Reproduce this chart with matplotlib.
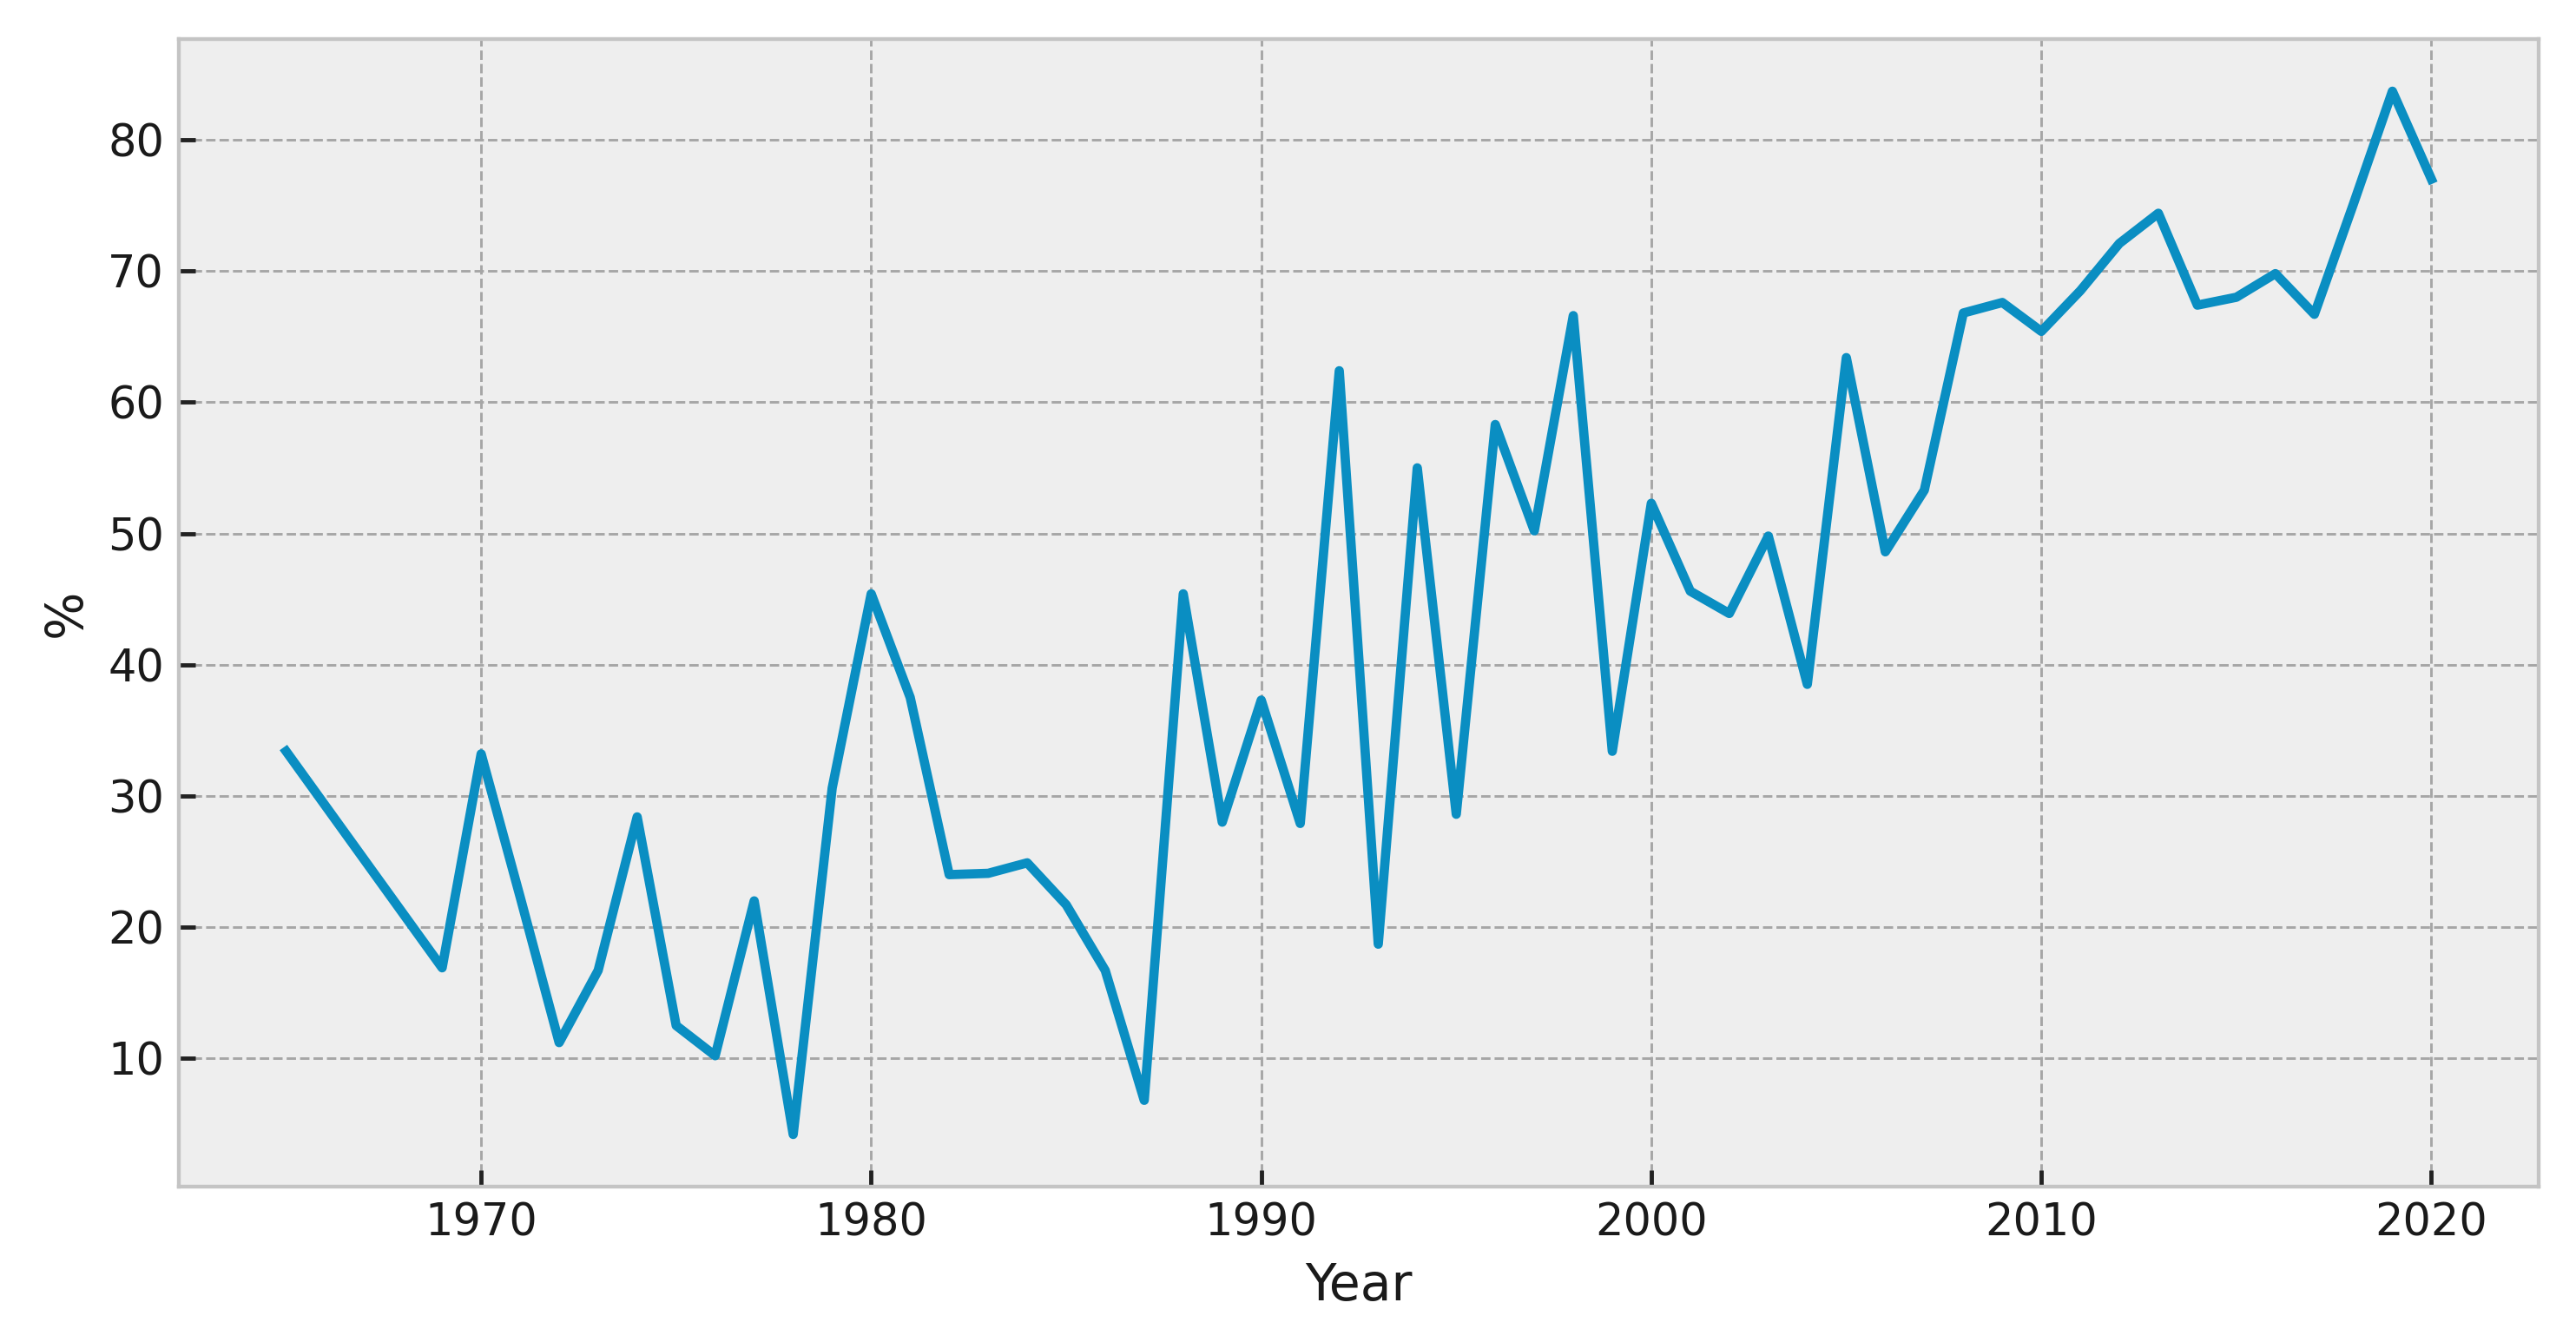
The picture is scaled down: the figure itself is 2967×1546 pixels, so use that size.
import matplotlib
matplotlib.use("Agg")
import matplotlib.pyplot as plt

years = [1965, 1969, 1970, 1971, 1972, 1973, 1974, 1975, 1976, 1977, 1978, 1979,
         1980, 1981, 1982, 1983, 1984, 1985, 1986, 1987, 1988, 1989,
         1990, 1991, 1992, 1993, 1994, 1995, 1996, 1997, 1998, 1999,
         2000, 2001, 2002, 2003, 2004, 2005, 2006, 2007, 2008, 2009,
         2010, 2011, 2012, 2013, 2014, 2015, 2016, 2017, 2018, 2019, 2020]
percent = [33.4, 16.9, 33.2, 22.3, 11.2, 16.7, 28.4, 12.5, 10.2, 22.0, 4.2, 30.6,
           45.4, 37.5, 24.0, 24.1, 24.9, 21.7, 16.7, 6.8, 45.4, 28.0,
           37.3, 27.9, 62.4, 18.7, 55.0, 28.6, 58.3, 50.2, 66.6, 33.4,
           52.3, 45.6, 43.9, 49.8, 38.5, 63.4, 48.6, 53.3, 66.8, 67.6,
           65.4, 68.5, 72.1, 74.4, 67.4, 68.0, 69.8, 66.7, 75.1, 83.7, 77.0]

plt.style.use("bmh")
plt.rcParams["font.family"] = ["DejaVu Sans"]

DPI = 350
fig = plt.figure(figsize=(2967 / DPI, 1546 / DPI), dpi=DPI)
ax = fig.add_axes([206 / 2967, 179 / 1546, (2924 - 206) / 2967, (1367 - 45) / 1546])
ax.set_facecolor("#eeeeee")

ax.plot(years, percent, color="#0a8ec2", linewidth=2.2, zorder=3)

ax.set_xlabel("Year", fontsize=12, color="#1a1a1a")
ax.set_ylabel("%", fontsize=12, color="#1a1a1a")
ax.set_yticks([10, 20, 30, 40, 50, 60, 70, 80])
ax.set_xticks([1970, 1980, 1990, 2000, 2010, 2020])
ax.grid(True, color="#a6a6a6", linestyle="--", linewidth=0.6)
ax.set_axisbelow(True)
ax.tick_params(axis="both", which="major", labelsize=10.5, direction="in",
               length=4, width=1.0, color="#222222", labelcolor="#1a1a1a",
               bottom=True, left=True, top=False, right=False)
for sp in ax.spines.values():
    sp.set_color("#c4c4c4")
    sp.set_linewidth(0.9)

fig.savefig("out.png", dpi=DPI, facecolor="white")
